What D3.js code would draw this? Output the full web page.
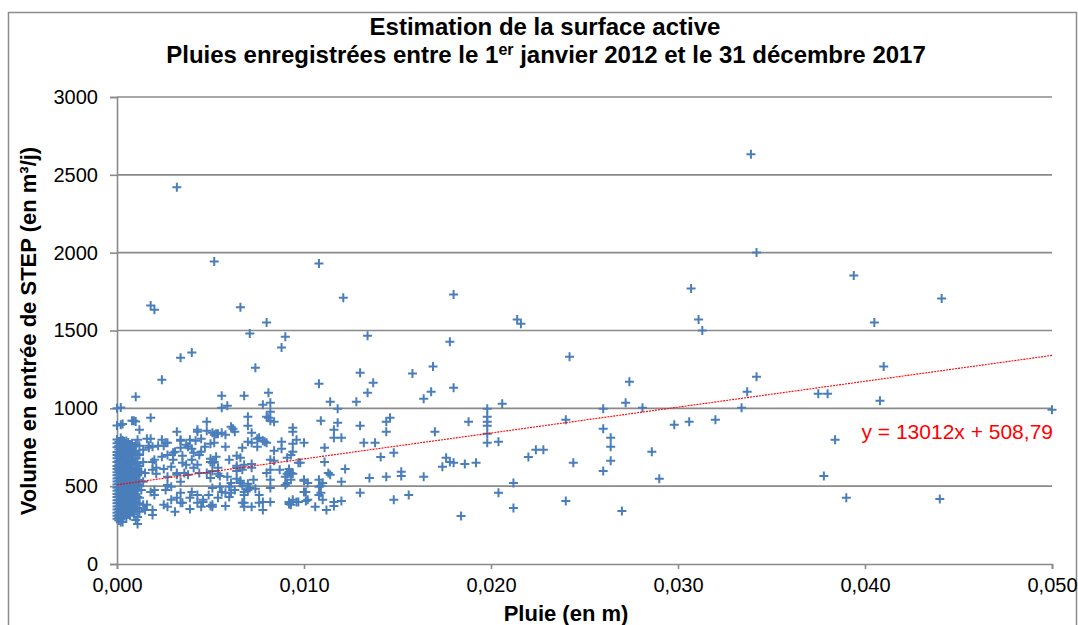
<!DOCTYPE html>
<html>
<head>
<meta charset="utf-8">
<script src="https://cdn.jsdelivr.net/npm/d3@7"></script>
<style>
  body { margin: 0; background: #fff; }
  text { font-family: "Liberation Sans", Arial, sans-serif; }
</style>
</head>
<body>
<svg id="chart" width="1078" height="625"></svg>
<script>
// valeurs : [pluie (m), volume (m3/j)]
let pointsDenses = [
  [0.0000,1000],[0.0000,890],[0.0000,800],[0.0000,775],[0.0000,750],[0.0000,720],[0.0000,700],[0.0000,680],[0.0000,655],
  [0.0000,630],[0.0000,610],[0.0000,590],[0.0000,570],[0.0000,550],[0.0000,530],[0.0000,510],[0.0000,490],[0.0000,470],
  [0.0000,450],[0.0000,430],[0.0000,410],[0.0000,390],[0.0000,370],[0.0000,350],[0.0000,330],[0.0000,310],[0.0000,290],
  [0.0001,785],[0.0001,760],[0.0001,735],[0.0001,705],[0.0001,690],[0.0001,665],[0.0001,640],[0.0001,620],[0.0001,600],
  [0.0001,575],[0.0001,555],[0.0001,535],[0.0001,515],[0.0001,495],[0.0001,475],[0.0001,455],[0.0001,435],[0.0001,415],
  [0.0001,395],[0.0001,375],[0.0001,355],[0.0001,335],[0.0001,315],[0.0001,300],[0.0001,280],
  [0.0002,1005],[0.0002,895],[0.0002,810],[0.0002,770],[0.0002,740],[0.0002,715],[0.0002,685],[0.0002,660],[0.0002,645],
  [0.0002,615],[0.0002,585],[0.0002,560],[0.0002,540],[0.0002,505],[0.0002,480],[0.0002,460],[0.0002,440],[0.0002,420],
  [0.0002,400],[0.0002,380],[0.0002,360],[0.0002,340],[0.0002,320],[0.0002,270],
  [0.0003,900],[0.0003,795],[0.0003,755],[0.0003,725],[0.0003,695],[0.0003,670],[0.0003,650],[0.0003,625],[0.0003,595],
  [0.0003,565],[0.0003,545],[0.0003,520],[0.0003,500],[0.0003,485],[0.0003,465],[0.0003,445],[0.0003,425],[0.0003,405],
  [0.0003,385],[0.0003,365],[0.0003,345],[0.0003,325],[0.0003,305],[0.0003,270],
  [0.0004,780],[0.0004,745],[0.0004,710],[0.0004,675],[0.0004,635],[0.0004,605],[0.0004,580],[0.0004,550],[0.0004,525],
  [0.0004,498],[0.0004,470],[0.0004,448],[0.0004,428],[0.0004,402],[0.0004,378],[0.0004,352],[0.0004,330],[0.0004,308],
  [0.0005,790],[0.0005,760],[0.0005,730],[0.0005,698],[0.0005,662],[0.0005,628],[0.0005,598],[0.0005,568],[0.0005,538],
  [0.0005,512],[0.0005,488],[0.0005,458],[0.0005,432],[0.0005,410],[0.0005,385],[0.0005,360],[0.0005,338],[0.0005,295],
  [0.0006,780],[0.0006,720],[0.0006,690],[0.0006,650],[0.0006,612],[0.0006,575],[0.0006,545],[0.0006,505],[0.0006,475],
  [0.0006,440],[0.0006,415],[0.0006,390],[0.0006,355],[0.0006,325],
  [0.0007,765],[0.0007,735],[0.0007,700],[0.0007,640],[0.0007,600],[0.0007,560],[0.0007,530],[0.0007,495],[0.0007,462],
  [0.0007,425],[0.0007,398],[0.0007,365],[0.0007,340],[0.0007,310],
  [0.0008,920],[0.0008,775],[0.0008,742],[0.0008,668],[0.0008,620],[0.0008,582],[0.0008,548],[0.0008,510],[0.0008,478],
  [0.0008,445],[0.0008,405],[0.0008,372],[0.0008,345],
  [0.0009,920],[0.0009,755],[0.0009,712],[0.0009,655],[0.0009,590],[0.0009,555],[0.0009,520],[0.0009,490],[0.0009,452],
  [0.0009,418],[0.0009,382],[0.0009,350],[0.0009,320],
  [0.0010,1075],[0.0010,915],[0.0010,766],[0.0010,728],[0.0010,680],[0.0010,632],[0.0010,598],[0.0010,563],[0.0010,530],
  [0.0010,480],[0.0010,440],[0.0010,399],[0.0010,355],[0.0010,283],
  [0.0011,798],[0.0011,705],[0.0011,645],[0.0011,610],[0.0011,572],[0.0011,512],[0.0011,470],[0.0011,430],[0.0011,360],
  [0.0011,302],[0.0011,257],
  [0.0012,862],[0.0012,760],[0.0012,700],[0.0012,630],[0.0012,585],[0.0012,540],[0.0012,500],[0.0012,425],[0.0012,390],
  [0.0012,335]
];

let pointsMoyens = [
  [0.0013,476],[0.0013,592],[0.0014,656],[0.0014,734],[0.0014,380],[0.0014,528],[0.0015,585],[0.0015,347],[0.0016,804],
  [0.0016,380],[0.0017,760],[0.0017,747],[0.0018,940],[0.0018,805],[0.0018,463],[0.0019,753],[0.0019,605],[0.0019,656],
  [0.0019,347],[0.0019,315],[0.0020,669],[0.0020,476],[0.0020,444],[0.0021,579],[0.0021,618],[0.0022,760],[0.0024,798],
  [0.0024,689],[0.0024,1184],[0.0025,611],[0.0025,760],[0.0025,380],[0.0026,779],[0.0026,476],[0.0027,701],[0.0027,560],
  [0.0027,779],[0.0027,508],[0.0027,367],[0.0029,624],[0.0029,496],[0.0029,412],[0.0030,669],[0.0030,714],[0.0031,721],
  [0.0031,335],[0.0032,849],[0.0032,585],[0.0032,573],[0.0032,425],[0.0034,792],[0.0034,747],[0.0034,798],[0.0034,528],
  [0.0034,457],[0.0034,393],[0.0035,695],[0.0035,650],[0.0035,393],[0.0036,585],[0.0037,766],[0.0037,637],[0.0038,753],
  [0.0038,573],[0.0039,798],[0.0039,425],[0.0039,354],[0.0040,740],[0.0040,669],[0.0040,463],[0.0041,714],[0.0041,618],
  [0.0042,792],[0.0043,849],[0.0043,862],[0.0043,637],[0.0043,444],[0.0043,393],[0.0044,701],[0.0044,585],[0.0045,804],
  [0.0045,721],[0.0045,367],[0.0046,412],[0.0046,399],[0.0047,753],[0.0048,914],[0.0048,856],[0.0048,585],[0.0049,444],
  [0.0050,772],[0.0050,656],[0.0050,676],[0.0050,553],[0.0050,373],[0.0051,843],[0.0051,598],[0.0051,650],[0.0051,489],
  [0.0051,380],[0.0051,367],[0.0052,830],[0.0052,656],[0.0052,779],[0.0053,689],[0.0053,836],[0.0054,836],[0.0054,618],
  [0.0054,579],[0.0054,425],[0.0055,496],[0.0055,566],[0.0056,1081],[0.0056,1004],[0.0056,843],[0.0056,463],[0.0058,830],
  [0.0058,753],[0.0058,457],[0.0058,373],[0.0059,1017],[0.0059,560],[0.0060,669],[0.0060,496],[0.0060,431],[0.0061,882],
  [0.0061,521],[0.0061,457],[0.0062,869],[0.0063,849],[0.0063,476],[0.0064,695],[0.0064,631],[0.0064,618],[0.0064,598],
  [0.0064,547],[0.0066,682],[0.0066,534],[0.0066,521],[0.0067,747],[0.0067,605],[0.0067,502],[0.0067,393],[0.0068,1081],
  [0.0068,637],[0.0068,463],[0.0068,444],[0.0068,393],[0.0068,367],[0.0070,946],[0.0070,888],[0.0070,785],[0.0070,515],
  [0.0070,476],[0.0071,489],[0.0072,843],[0.0072,779],[0.0072,643],[0.0072,618],[0.0072,367],[0.0073,541],[0.0074,483],
  [0.0075,804],[0.0075,753],[0.0076,811],[0.0076,444],[0.0076,393],[0.0078,1023],[0.0078,792],[0.0078,399],[0.0078,347],
  [0.0079,785],[0.0080,946],[0.0080,779],[0.0080,585],[0.0081,1100],[0.0081,940],[0.0082,1036],[0.0082,978],[0.0082,920],
  [0.0082,669],[0.0082,605],[0.0082,541],[0.0082,489],[0.0082,399],[0.0084,914],[0.0084,727],[0.0084,663],[0.0087,605],
  [0.0088,785],[0.0088,740],[0.0090,560],[0.0090,508],[0.0091,682],[0.0091,579],[0.0091,521],[0.0092,611],[0.0092,592],
  [0.0092,399],[0.0092,386],[0.0093,701],[0.0093,585],[0.0093,541],[0.0093,380],[0.0094,875],[0.0094,849],[0.0094,772],
  [0.0094,721],[0.0094,579],[0.0094,412],[0.0096,798],[0.0096,399],[0.0097,650],[0.0097,399],[0.0098,650],[0.0100,779],
  [0.0100,541],[0.0100,534],[0.0100,463],[0.0101,463],[0.0101,405],[0.0102,521],[0.0102,412],[0.0106,367],[0.0108,1158],
  [0.0108,541],[0.0108,496],[0.0108,444],[0.0109,920],[0.0109,502],[0.0109,457],[0.0110,521],[0.0110,412]
];

let pointsForts = [
  [0.0032,2420],[0.0052,1943],[0.0018,1660],[0.0020,1634],[0.0034,1325],[0.0040,1358],[0.0066,1650],[0.0071,1480],
  [0.0074,1261],[0.0080,1551],[0.0088,1390],[0.0090,1460],[0.0108,1930],
  [0.0111,747],[0.0111,656],[0.0112,347],[0.0113,585],[0.0114,1042],[0.0114,573],[0.0116,862],[0.0116,811],[0.0116,399],
  [0.0116,373],[0.0118,997],[0.0118,907],[0.0120,811],[0.0120,528],[0.0120,405],[0.0121,1711],[0.0122,611],[0.0128,1042],
  [0.0130,1229],[0.0130,888],[0.0130,457],[0.0132,779],[0.0134,1467],[0.0134,1100],[0.0135,553],[0.0137,1165],[0.0138,779],
  [0.0141,688],[0.0144,914],[0.0144,849],[0.0144,560],[0.0146,940],[0.0148,714],[0.0148,412],[0.0152,592],[0.0152,566],
  [0.0156,444],[0.0158,1223],[0.0164,1062],[0.0164,560],[0.0168,1107],[0.0169,1268],[0.0170,849],[0.0174,624],[0.0176,682],
  [0.0178,1428],[0.0178,656],[0.0180,1731],[0.0180,1133],[0.0180,650],[0.0184,309],[0.0186,643],[0.0188,914],[0.0192,650],
  [0.0198,997],[0.0198,946],[0.0198,914],[0.0198,888],[0.0198,836],[0.0198,779],[0.0204,785],[0.0204,457],[0.0206,1030],
  [0.0212,521],[0.0212,360],[0.0214,1570],[0.0216,1543],[0.0220,688],[0.0224,734],[0.0228,734],[0.0240,927],[0.0240,405],
  [0.0242,1332],[0.0244,650],[0.0260,997],[0.0260,869],[0.0260,598],[0.0264,811],[0.0264,753],[0.0264,663],[0.0270,341],
  [0.0272,1036],[0.0274,1171],[0.0281,1004],[0.0286,721],[0.0290,547],[0.0298,894],[0.0306,914],[0.0307,1770],[0.0311,1570],
  [0.0313,1500],[0.0320,927],[0.0334,1004],[0.0337,1107],[0.0339,2632],[0.0342,2001],[0.0342,1203],[0.0375,1094],
  [0.0378,566],[0.0380,1094],[0.0384,798],[0.0390,425],[0.0394,1853],[0.0405,1551],[0.0408,1049],[0.0410,1268],
  [0.0440,418],[0.0441,1705],[0.0500,991]
];

// droite de tendance telle que tracée, et son équation affichée
let tendance = [[0, 509], [0.05, 1340]];
let equation = "y = 13012x + 508,79";

let xTicks = [0, 0.01, 0.02, 0.03, 0.04, 0.05];
let yTicks = [0, 500, 1000, 1500, 2000, 2500, 3000];

let plotLeft = 117, plotRight = 1052, plotTop = 97, plotBottom = 564;

let svg = d3.select("#chart");

// cadre du graphique
svg.append("rect")
    .attr("x", 8.5).attr("y", 12.5)
    .attr("width", 1068).attr("height", 640)
    .attr("fill", "none")
    .attr("stroke", "#8c8c8c")
    .attr("stroke-width", 1.5);

let x = d3.scaleLinear().domain([0, 0.05]).range([plotLeft, plotRight]);
let y = d3.scaleLinear().domain([0, 3000]).range([plotBottom, plotTop]);

// quadrillage horizontal
svg.append("g")
    .selectAll("line")
    .data(yTicks.slice(1))
    .join("line")
    .attr("x1", plotLeft).attr("x2", plotRight)
    .attr("y1", d => y(d)).attr("y2", d => y(d))
    .attr("stroke", "#8a8a8a")
    .attr("stroke-width", 1.6);

let xAxis = svg.append("g")
    .attr("transform", "translate(0," + plotBottom + ")")
    .call(d3.axisBottom(x).tickValues(xTicks).tickSize(5).tickPadding(9)
        .tickFormat(d => d3.format(".3f")(d).replace(".", ",")));

let yAxis = svg.append("g")
    .attr("transform", "translate(" + plotLeft + ",0)")
    .call(d3.axisLeft(y).tickValues(yTicks).tickSize(7).tickPadding(12)
        .tickFormat(d3.format("d")));

[xAxis, yAxis].forEach(a => {
    a.select(".domain").attr("stroke", "#8a8a8a").attr("stroke-width", 1.6);
    a.selectAll(".tick line").attr("stroke", "#8a8a8a").attr("stroke-width", 1.6);
    a.selectAll(".tick text")
        .attr("fill", "#000")
        .style("font-size", "20px")
        .style("font-family", "'Liberation Sans', Arial, sans-serif");
});

// nuage de points
let tousPoints = pointsDenses.concat(pointsMoyens, pointsForts);
svg.append("g")
    .selectAll("path")
    .data(tousPoints)
    .join("path")
    .attr("transform", d => "translate(" + x(d[0]) + "," + y(d[1]) + ")")
    .attr("d", "M-4.5,0H4.5M0,-4.5V4.5")
    .attr("stroke", "#4a7ebb")
    .attr("stroke-width", 2)
    .attr("fill", "none");

// tendance linéaire
svg.append("path")
    .datum(tendance)
    .attr("d", d3.line().x(d => x(d[0])).y(d => y(d[1])))
    .attr("stroke", "#ff0000")
    .attr("stroke-width", 1.1)
    .attr("stroke-dasharray", "2,1")
    .attr("fill", "none");

svg.append("text")
    .attr("x", plotRight + 1).attr("y", 439)
    .attr("text-anchor", "end")
    .attr("fill", "#ff0000")
    .style("font-size", "21px")
    .text(equation);

// titres
svg.append("text")
    .attr("x", 545).attr("y", 35)
    .attr("text-anchor", "middle")
    .style("font-size", "24px").style("font-weight", "bold")
    .text("Estimation de la surface active");

let t2 = svg.append("text")
    .attr("x", 546).attr("y", 63)
    .attr("text-anchor", "middle")
    .style("font-size", "24px").style("font-weight", "bold");
t2.append("tspan").text("Pluies enregistrées entre le 1");
t2.append("tspan").attr("dy", -8).style("font-size", "16px").text("er");
t2.append("tspan").attr("dy", 8).text(" janvier 2012 et le 31 décembre 2017");

svg.append("text")
    .attr("x", 566).attr("y", 621)
    .attr("text-anchor", "middle")
    .style("font-size", "22px").style("font-weight", "bold")
    .text("Pluie (en m)");

svg.append("text")
    .attr("transform", "translate(36,331) rotate(-90)")
    .attr("text-anchor", "middle")
    .style("font-size", "22px").style("font-weight", "bold")
    .text("Volume en entrée de STEP (en m³/j)");
</script>
</body>
</html>
